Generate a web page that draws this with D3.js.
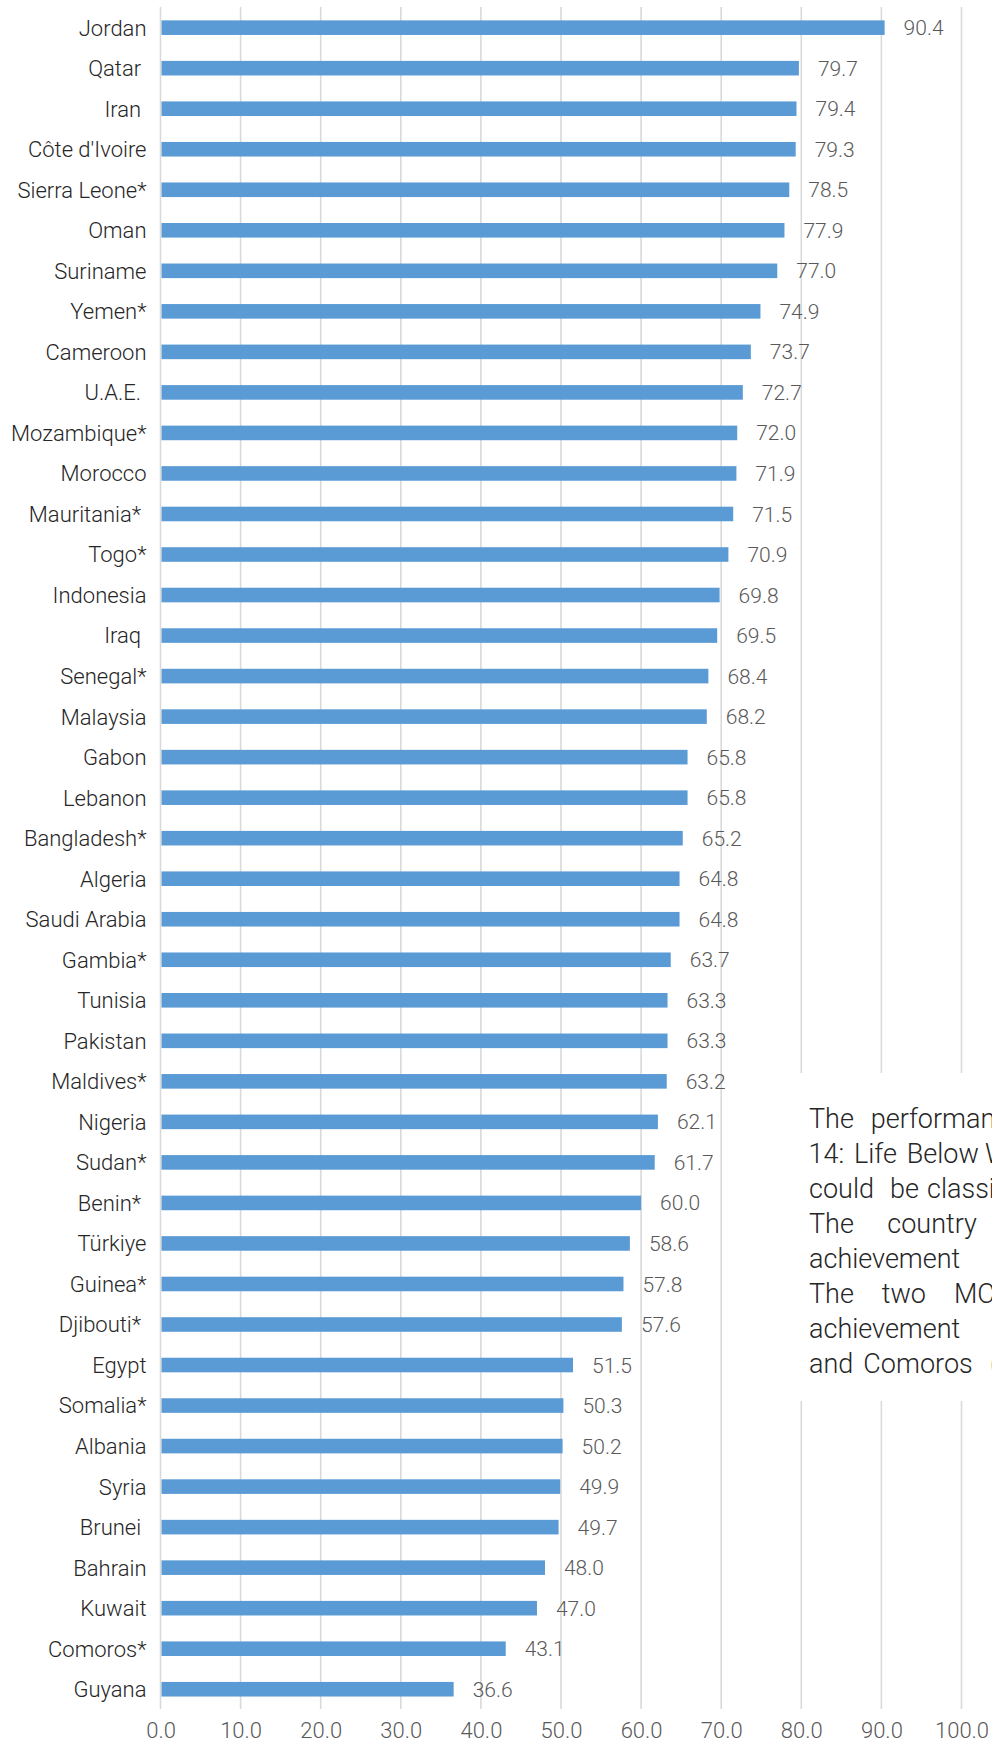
<!DOCTYPE html>
<html>
<head>
<meta charset="utf-8">
<script src="https://cdn.jsdelivr.net/npm/d3@7"></script>
<style>
  html, body { margin: 0; padding: 0; background: #fff; overflow: hidden; }
  svg { display: block; }
  text { font-family: Roboto, "Noto Sans", sans-serif; }
</style>
</head>
<body>
<div id="chart"></div>
<script>
// ---- data ----
const categories = ["Jordan", "Qatar ", "Iran ", "Côte d'Ivoire", "Sierra Leone*", "Oman", "Suriname", "Yemen*", "Cameroon", "U.A.E. ",
  "Mozambique*", "Morocco", "Mauritania* ", "Togo*", "Indonesia", "Iraq ", "Senegal*", "Malaysia", "Gabon", "Lebanon",
  "Bangladesh*", "Algeria", "Saudi Arabia", "Gambia*", "Tunisia", "Pakistan", "Maldives*", "Nigeria", "Sudan*", "Benin* ",
  "Türkiye", "Guinea*", "Djibouti* ", "Egypt", "Somalia*", "Albania", "Syria", "Brunei ", "Bahrain", "Kuwait",
  "Comoros*", "Guyana"];
const values = [90.4, 79.7, 79.4, 79.3, 78.5, 77.9, 77.0, 74.9, 73.7, 72.7,
  72.0, 71.9, 71.5, 70.9, 69.8, 69.5, 68.4, 68.2, 65.8, 65.8,
  65.2, 64.8, 64.8, 63.7, 63.3, 63.3, 63.2, 62.1, 61.7, 60.0,
  58.6, 57.8, 57.6, 51.5, 50.3, 50.2, 49.9, 49.7, 48.0, 47.0,
  43.1, 36.6];
const tickValues = [0, 10, 20, 30, 40, 50, 60, 70, 80, 90, 100];
const noteLines = [
  ["The", "performance"],
  ["14:", "Life", "Below", "Water"],
  ["could", "be", "classified"],
  ["The", "country"],
  ["achievement"],
  ["The", "two", "MCs"],
  ["achievement"],
  ["and", "Comoros", "(43.1)"]
];

// ---- layout ----
const W = 992, H = 1747;
const svg = d3.select("#chart").append("svg").attr("width", W).attr("height", H);

const x = d3.scaleLinear().domain([0, 100]).range([160.5, 961.5]);
const y = d3.scaleBand().domain(d3.range(categories.length)).range([7.4, 1709.5])
  .paddingInner(0.64).paddingOuter(0.32);

// gridlines
svg.append("g").selectAll("line").data(tickValues).join("line")
  .attr("x1", d => x(d)).attr("x2", d => x(d))
  .attr("y1", 7).attr("y2", 1709)
  .attr("stroke", "#d9d9d9").attr("stroke-width", 1.6);

// bars
svg.append("g").selectAll("rect").data(values).join("rect")
  .attr("x", x(0) + 1)
  .attr("y", (d, i) => y(i))
  .attr("width", d => x(d) - x(0) - 1)
  .attr("height", y.bandwidth())
  .attr("fill", "#5B9BD5");

// category labels
svg.append("g").selectAll("text").data(categories).join("text")
  .attr("x", 146.5)
  .attr("y", (d, i) => y(i) + y.bandwidth() / 2)
  .attr("dy", "0.36em")
  .attr("text-anchor", "end")
  .style("white-space", "pre")
  .attr("font-size", "22px")
  .attr("font-weight", 300)
  .attr("fill", "#262626")
  .text(d => d);

// value labels
svg.append("g").selectAll("text").data(values).join("text")
  .attr("x", d => x(d) + 19)
  .attr("y", (d, i) => y(i) + y.bandwidth() / 2)
  .attr("dy", "0.36em")
  .attr("font-size", "21px")
  .attr("font-weight", 300)
  .attr("fill", "#595959")
  .text(d => d3.format(".1f")(d));

// x axis tick labels
const xAxis = d3.axisBottom(x).tickValues(tickValues).tickFormat(d3.format(".1f")).tickSize(0).tickPadding(0);
const gx = svg.append("g").attr("transform", "translate(0,1722.5)").call(xAxis);
gx.select(".domain").remove();
gx.selectAll("text")
  .attr("font-size", "22px")
  .attr("font-weight", 300)
  .attr("font-family", "Roboto, sans-serif")
  .attr("fill", "#595959");

// note box
svg.append("rect").attr("x", 770).attr("y", 1073).attr("width", 240).attr("height", 328).attr("fill", "#fff");
const wordX = [
  [809, 870.7],
  [808.5, 854, 906.7, 985],
  [809, 890, 927],
  [809, 887.3],
  [809],
  [809, 881.7, 954],
  [809],
  [809, 863.3, 990]
];
const note = svg.append("g");
noteLines.forEach((words, li) => {
  const t = note.append("text")
    .attr("y", 1128.3 + li * 35)
    .attr("font-size", "27px")
    .attr("font-weight", 300)
    .attr("fill", "#262626");
  words.forEach((w, wi) => {
    t.append("tspan").attr("x", wordX[li][wi]).text(w);
  });
});
</script>
</body>
</html>
